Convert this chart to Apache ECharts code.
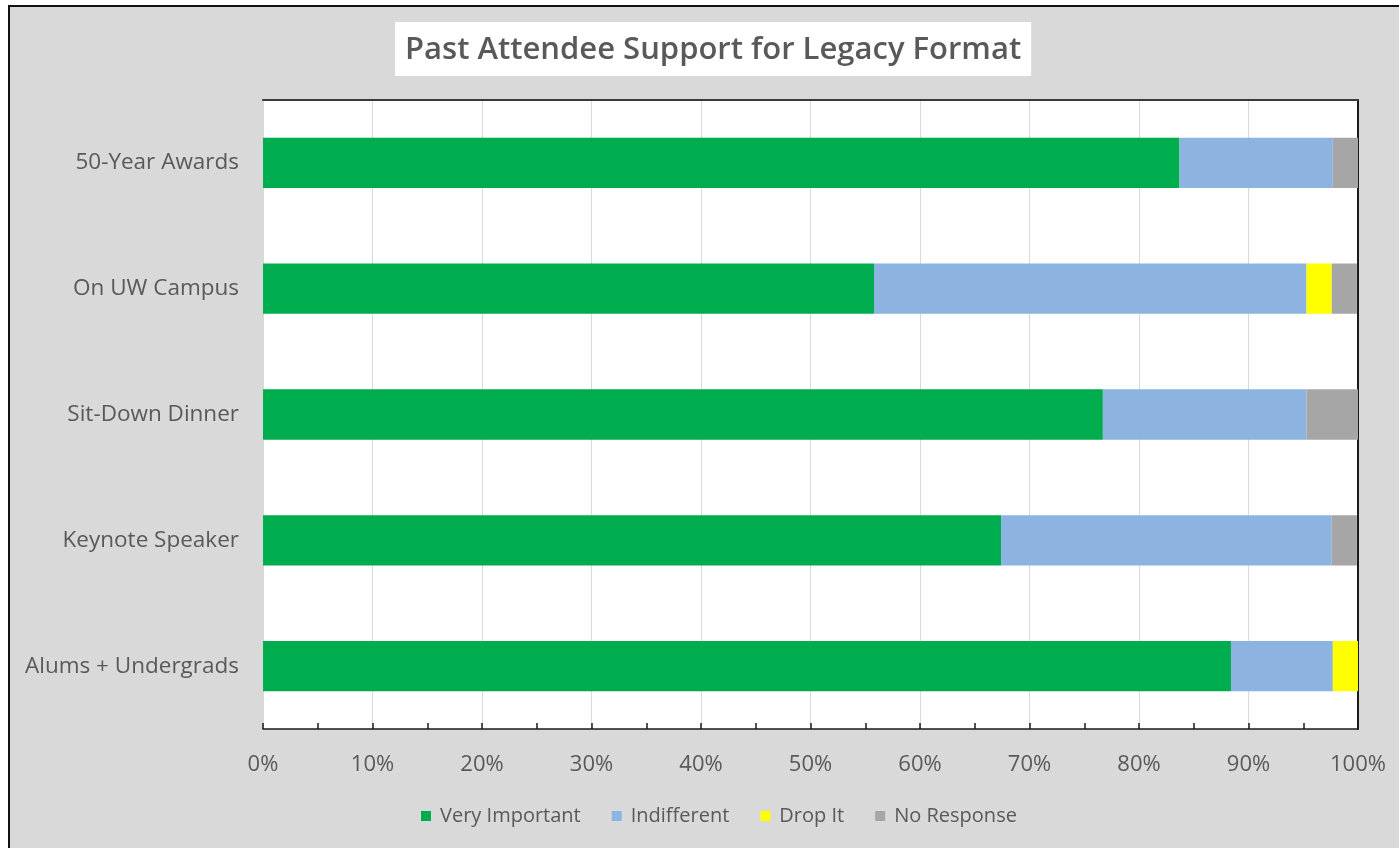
<!DOCTYPE html>
<html>
<head>
<meta charset="utf-8">
<script src="https://cdn.jsdelivr.net/npm/echarts@6/dist/echarts.min.js"></script>
<style>
html,body{margin:0;padding:0;background:#ffffff;overflow:hidden;}
#chart{position:absolute;left:8px;top:5px;width:1391px;height:843px;border-left:2px solid #111;border-top:2px solid #111;background:#d9d9d9;}
</style>
</head>
<body>
<div id="chart"></div>
<script>
const categories = ["50-Year Awards", "On UW Campus", "Sit-Down Dinner", "Keynote Speaker", "Alums + Undergrads"];
const veryImportant = [83.7, 55.8, 76.7, 67.4, 88.4];
const indifferent   = [14.0, 39.5, 18.6, 30.2, 9.3];
const dropIt        = [0, 2.3, 0, 0, 2.3];
const noResponse    = [2.3, 2.3, 4.7, 2.3, 0];
const xTicks = [0, 10, 20, 30, 40, 50, 60, 70, 80, 90, 100];

const textColor = '#595959';
const font = '"Open Sans", sans-serif';

const chart = echarts.init(document.getElementById('chart'), null, {renderer: 'canvas'});

function bar(name, data, color) {
  return {
    name: name, type: 'bar', stack: 'total', data: data,
    barWidth: '40%', itemStyle: {color: color},
    emphasis: {disabled: true}
  };
}

chart.setOption({
  animation: false,
  backgroundColor: '#d9d9d9',
  title: {
    text: 'Past Attendee Support for Legacy Format',
    left: 385, top: 15,
    backgroundColor: '#ffffff',
    padding: [10, 10, 8, 10],
    textStyle: {color: textColor, fontFamily: font, fontWeight: 600, fontSize: 31, lineHeight: 36}
  },
  legend: {
    top: 799, left: 411, padding: 0,
    icon: 'rect', itemWidth: 10, itemHeight: 10, itemGap: 31,
    textStyle: {color: textColor, fontFamily: font, fontSize: 20, padding: [0, 0, 0, 4]},
    data: ['Very Important', 'Indifferent', 'Drop It', 'No Response']
  },
  grid: {
    left: 253, top: 93, width: 1095, height: 629,
    show: true, backgroundColor: '#ffffff', borderWidth: 0
  },
  xAxis: [{
    type: 'value', min: xTicks[0], max: xTicks[xTicks.length - 1], interval: 10,
    position: 'bottom',
    axisLine: {show: true, lineStyle: {color: '#1a1a1a', width: 1.5}},
    axisTick: {show: true, inside: true, length: 6, lineStyle: {color: '#1a1a1a', width: 1.5}},
    minorTick: {show: true, splitNumber: 2, length: 6, lineStyle: {color: '#1a1a1a', width: 1.5}},
    splitLine: {show: true, lineStyle: {color: '#d9d9d9', width: 1}},
    axisLabel: {color: textColor, fontFamily: font, fontSize: 22, margin: 25,
      formatter: function (v) { return v + '%'; }}
  }, {
    type: 'value', min: 0, max: 100, position: 'top',
    axisLine: {show: true, onZero: false, lineStyle: {color: '#3a3a3a', width: 2}},
    axisTick: {show: false}, axisLabel: {show: false}, splitLine: {show: false}
  }],
  yAxis: [{
    type: 'category', data: categories, inverse: true,
    axisLine: {show: false}, axisTick: {show: false},
    axisLabel: {color: textColor, fontFamily: font, fontSize: 22.5, margin: 24}
  }, {
    type: 'category', data: categories, inverse: true, position: 'right',
    axisLine: {show: true, onZero: false, lineStyle: {color: '#1a1a1a', width: 2}},
    axisTick: {show: false}, axisLabel: {show: false}
  }],
  series: [
    bar('Very Important', veryImportant, '#00ad4e'),
    bar('Indifferent', indifferent, '#8db3e1'),
    bar('Drop It', dropIt, '#ffff00'),
    bar('No Response', noResponse, '#a6a6a6')
  ]
});
</script>
</body>
</html>
